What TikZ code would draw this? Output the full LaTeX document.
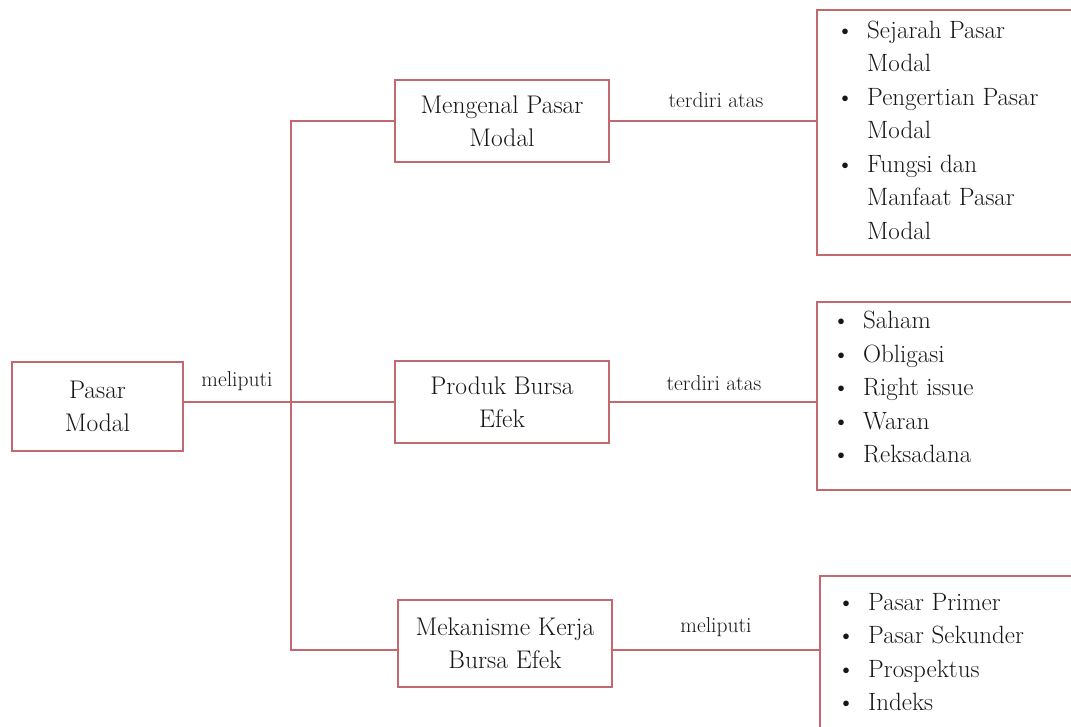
\documentclass[tikz,border=0pt]{standalone}
\definecolor{boxred}{RGB}{196,104,112}
\definecolor{ink}{RGB}{25,22,23}
\newcommand{\bitem}[1]{\makebox[19pt][l]{\textbullet} & #1}
\begin{document}
\begin{tikzpicture}[x=1pt,y=-1pt,
  box/.style={draw=boxred, line width=2.9pt, fill=white, text=ink, align=center,
    font=\fontsize{25.5}{33}\selectfont, inner sep=0pt},
  listbox/.style={draw=boxred, line width=2.9pt, fill=white, inner sep=0pt},
  listtext/.style={text=ink, anchor=west, inner sep=0pt, font=\fontsize{25}{33.5}\selectfont},
  conn/.style={draw=boxred, line width=2.5pt},
  lbl/.style={text=ink, font=\fontsize{21.5}{24}\selectfont, inner sep=0pt}]
\useasboundingbox (0,0) rectangle (1071,727);
\clip (0,0) rectangle (1071,727);
% main boxes
\node[box, minimum width=171pt, minimum height=89pt] (pm) at (97.5,406.5) {Pasar\\Modal};
\node[box, minimum width=214pt, minimum height=82pt] (m1) at (502,121) {Mengenal Pasar\\Modal};
\node[box, minimum width=214pt, minimum height=82pt] (m2) at (502,402) {Produk Bursa\\Efek};
\node[box, minimum width=214pt, minimum height=87pt] (m3) at (505,643.5) {Mekanisme Kerja\\Bursa Efek};
% list boxes
\node[listbox, minimum width=273pt, minimum height=245pt] (r1) at (953.5,132.5) {};
\node[listbox, minimum width=273pt, minimum height=188pt] (r2) at (953.5,396) {};
\node[listbox, minimum width=270pt, minimum height=174pt] (r3) at (955,663) {};
% list texts
\node[listtext] (t1) at (836,132) {\begin{tabular}{@{}ll@{}}
\bitem{Sejarah Pasar}\\ & Modal\\ \bitem{Pengertian Pasar}\\ & Modal\\
\bitem{Fungsi dan}\\ & Manfaat Pasar\\ & Modal\end{tabular}};
\node[listtext] (t2) at (832,389) {\begin{tabular}{@{}ll@{}}
\bitem{Saham}\\ \bitem{Obligasi}\\ \bitem{Right issue}\\ \bitem{Waran}\\ \bitem{Reksadana}\end{tabular}};
\node[listtext] (t3) at (837,654) {\begin{tabular}{@{}ll@{}}
\bitem{Pasar Primer}\\ \bitem{Pasar Sekunder}\\ \bitem{Prospektus}\\ \bitem{Indeks}\end{tabular}};
% junctions
\coordinate (j) at (291,402);
\coordinate (c3) at (291,650);
% connectors
\draw[conn] (pm.east |- j) -- (j);
\draw[conn] (m1.west) -- (m1.west -| j) -- (c3) -- (c3 -| m3.west);
\draw[conn] (j) -- (m2.west);
\draw[conn] (m1.east) -- (m1.east -| r1.west);
\draw[conn] (m2.east) -- (m2.east -| r2.west);
\draw[conn] (c3 -| m3.east) -- (c3 -| r3.west);
% labels
\node[lbl] (l0) at (237,381) {meliputi};
\node[lbl] (l1) at (716,100) {terdiri atas};
\node[lbl] (l2) at (714,383) {terdiri atas};
\node[lbl] (l3) at (716,627) {meliputi};
\end{tikzpicture}
\end{document}
